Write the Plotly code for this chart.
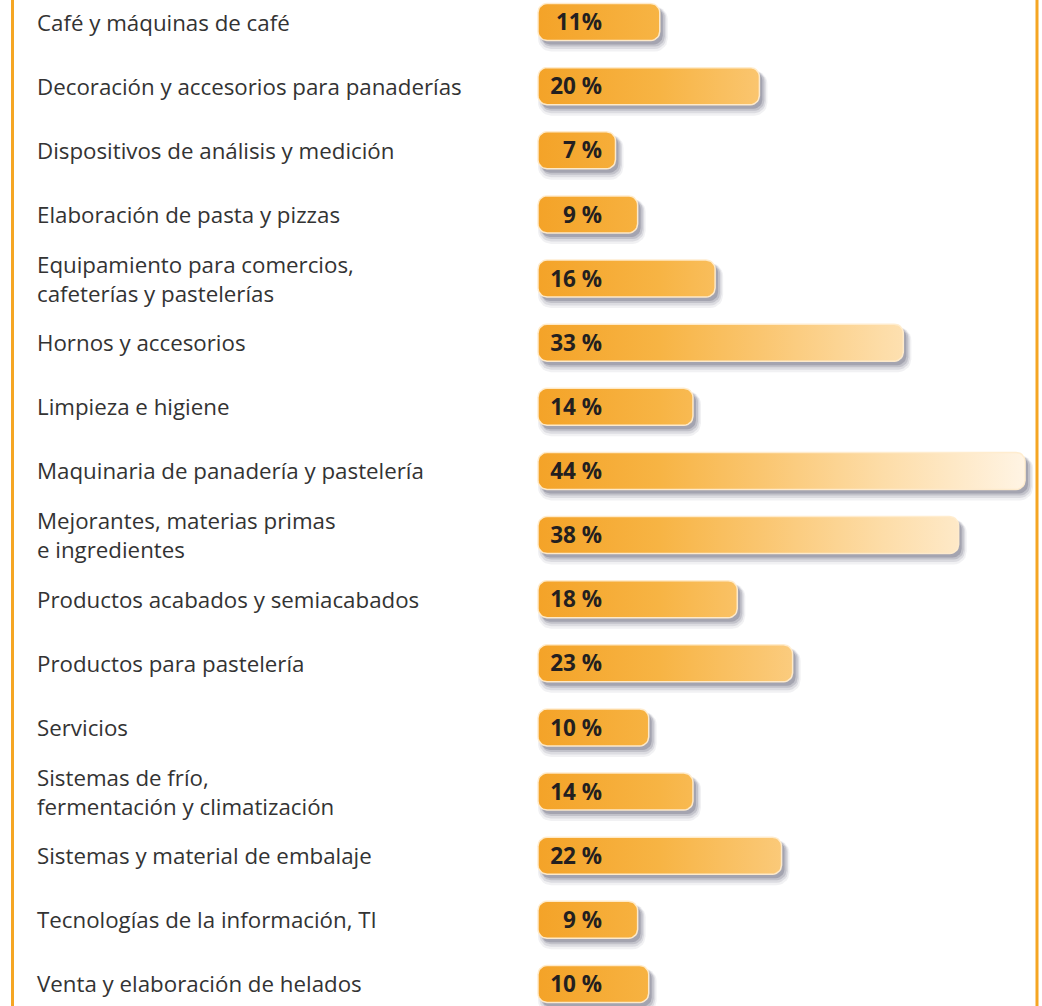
import plotly.graph_objects as go
import numpy as np

categories = [
    "Café y máquinas de café",
    "Decoración y accesorios para panaderías",
    "Dispositivos de análisis y medición",
    "Elaboración de pasta y pizzas",
    "Equipamiento para comercios,<br>cafeterías y pastelerías",
    "Hornos y accesorios",
    "Limpieza e higiene",
    "Maquinaria de panadería y pastelería",
    "Mejorantes, materias primas<br>e ingredientes",
    "Productos acabados y semiacabados",
    "Productos para pastelería",
    "Servicios",
    "Sistemas de frío,<br>fermentación y climatización",
    "Sistemas y material de embalaje",
    "Tecnologías de la información, TI",
    "Venta y elaboración de helados",
]
values = [11, 20, 7, 9, 16, 33, 14, 44, 38, 18, 23, 10, 14, 22, 9, 10]
value_labels = ["11%", "20 %", "7 %", "9 %", "16 %", "33 %", "14 %", "44 %",
                "38 %", "18 %", "23 %", "10 %", "14 %", "22 %", "9 %", "10 %"]

W, H = 1042, 1006
X0_PX = 538.0           # pixel of value 0
PX_PER_X = 11.07        # pixels per percent
Y0_PX = 22.0            # pixel center of first row
PX_PER_Y = 64.13        # pixels per row

x_range = [-X0_PX / PX_PER_X, (W - X0_PX) / PX_PER_X]
y_range = [(H - Y0_PX) / PX_PER_Y, -Y0_PX / PX_PER_Y]

BAR_H = 37.0
RAD = 9.0


def rounded_rect(xv, yc, dx_px=0.0, dy_px=0.0, grow=0.0):
    cx = X0_PX + dx_px
    cy = Y0_PX + yc * PX_PER_Y + dy_px
    left = cx - grow
    right = X0_PX + xv * PX_PER_X + dx_px + grow
    top = cy - BAR_H / 2 - grow
    bot = cy + BAR_H / 2 + grow
    r = RAD + grow
    pts = []
    corners = [
        (right - r, top + r, -90, 0),
        (right - r, bot - r, 0, 90),
        (left + r, bot - r, 90, 180),
        (left + r, top + r, 180, 270),
    ]
    for (ccx, ccy, a0, a1) in corners:
        for a in np.linspace(np.radians(a0), np.radians(a1), 8):
            pts.append((ccx + r * np.cos(a), ccy + r * np.sin(a)))
    pts.append(pts[0])
    xs = [(p[0] - X0_PX) / PX_PER_X for p in pts]
    ys = [(p[1] - Y0_PX) / PX_PER_Y for p in pts]
    return xs, ys


fig = go.Figure()

# shadows
for i, v in enumerate(values):
    for (dx, dy, g, a) in [(4, 7, 4, 0.08), (4, 6, 2.5, 0.12), (4, 5, 1, 0.18), (3, 4, 0, 0.25)]:
        xs, ys = rounded_rect(v, i, dx, dy, g)
        fig.add_trace(go.Scatter(
            x=xs, y=ys, mode="lines", fill="toself",
            fillcolor=f"rgba(75,75,100,{a})", line=dict(width=0),
            hoverinfo="skip", showlegend=False))

# bars
for i, v in enumerate(values):
    xs, ys = rounded_rect(v, i)
    fig.add_trace(go.Scatter(
        x=xs, y=ys, mode="lines", fill="toself",
        fillgradient=dict(
            type="horizontal",
            colorscale=[[0, "#F4A328"], [0.25, "#F7B444"], [0.45, "#FAC56E"],
                        [0.7, "#FDDCA6"], [1, "#FFF4E4"]],
            start=0, stop=44),
        line=dict(color="rgba(255,236,205,0.95)", width=1.5),
        hoverinfo="skip", showlegend=False))

# value labels (nudged down slightly to sit centred in the bar)
TXT_DY = 2.5 / PX_PER_Y
fig.add_trace(go.Scatter(
    x=[(602 - X0_PX) / PX_PER_X] * len(values),
    y=[i + TXT_DY for i in range(len(values))],
    mode="text", text=value_labels, textposition="middle left",
    textfont=dict(family="Open Sans", size=22.5, color="#231F20", weight="bold"),
    hoverinfo="skip", showlegend=False))

# category labels
for i, c in enumerate(categories):
    fig.add_annotation(
        x=35 / W, xref="paper", y=i, yref="y",
        text=c, showarrow=False, xanchor="left", yanchor="middle", align="left",
        font=dict(family="Open Sans", size=22.3, color="#333333"))

# frame lines
for xp in [12.5 / W, 1037 / W]:
    fig.add_shape(type="line", xref="paper", yref="paper", x0=xp, x1=xp, y0=0, y1=1,
                  line=dict(color="#F5A623", width=3))

fig.update_layout(
    width=W, height=H, margin=dict(l=0, r=0, t=0, b=0),
    paper_bgcolor="white", plot_bgcolor="white",
    hovermode=False,
    xaxis=dict(range=x_range, visible=False, fixedrange=True),
    yaxis=dict(range=y_range, visible=False, fixedrange=True),
)

fig.write_html("out.html", config={"displayModeBar": False},
               post_script="document.body.style.margin='0px';")
